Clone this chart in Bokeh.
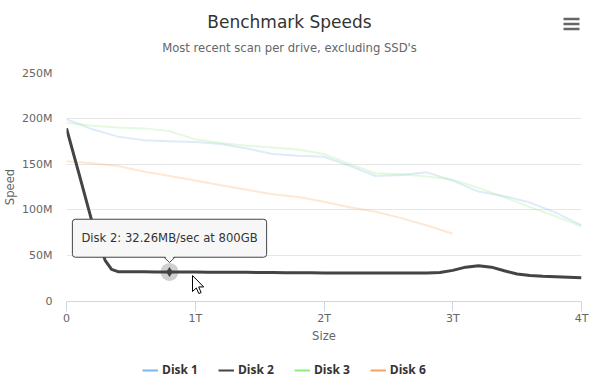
from bokeh.plotting import figure
from bokeh.layouts import column
from bokeh.models import (Range1d, FixedTicker, Label, Legend, LegendItem,
                          PolyAnnotation)
from bokeh.embed import file_html
from bokeh.resources import INLINE

# Scan results: size in TB, speed in MB/sec
disk1_size = [0, 0.2, 0.4, 0.6, 0.8, 1.0, 1.2, 1.4, 1.6, 1.8, 2.0,
              2.2, 2.4, 2.6, 2.8, 3.0, 3.2, 3.4, 3.6, 3.8, 4.0]
disk1_speed = [199, 188, 180, 176, 175, 174, 172, 167, 161, 159, 158,
               148, 137, 138, 141, 132, 120, 115, 108, 97, 83]

disk2_size = [0, 0.1, 0.2, 0.3, 0.35, 0.4, 0.5, 0.6, 0.7, 0.8, 0.9, 1.0,
              1.1, 1.2, 1.3, 1.4, 1.5, 1.6, 1.7, 1.8, 1.9, 2.0,
              2.1, 2.2, 2.3, 2.4, 2.5, 2.6, 2.7, 2.8, 2.9, 3.0,
              3.1, 3.2, 3.3, 3.4, 3.5, 3.6, 3.7, 3.8, 3.9, 4.0]
disk2_speed = [189, 138, 86, 45, 35.0, 32.6, 32.4, 32.4, 32.3, 32.26, 32.2, 32.1,
               32.0, 32.0, 31.9, 31.8, 31.7, 31.6, 31.5, 31.4, 31.3, 31.2,
               31.2, 31.1, 31.1, 31.0, 31.0, 31.0, 31.0, 31.0, 31.6, 34.0,
               37.5, 39.0, 37.5, 33.5, 30.0, 28.5, 27.5, 27.0, 26.5, 26.0]

disk3_size = [0, 0.2, 0.4, 0.6, 0.8, 1.0, 1.2, 1.4, 1.6, 1.8, 2.0,
              2.2, 2.4, 2.6, 2.8, 3.0, 3.2, 3.4, 3.6, 3.8, 4.0]
disk3_speed = [195, 192, 190, 189, 186, 177, 173, 170, 168, 166, 161,
               150, 140, 139, 136.5, 133, 124, 114, 103, 93, 82]

disk6_size = [0, 0.2, 0.4, 0.6, 0.8, 1.0, 1.2, 1.4, 1.6, 1.8, 2.0,
              2.2, 2.4, 2.6, 2.8, 3.0]
disk6_speed = [153, 151, 148, 142, 137, 132, 127, 122, 117, 114, 109,
               103, 98, 91, 83, 74]

series_names = ["Disk 1", "Disk 2", "Disk 3", "Disk 6"]
series_colors = ["#7cb5ec", "#434348", "#90ed7d", "#f7a35c"]

y_ticks = [0, 50, 100, 150, 200, 250]
y_tick_labels = ["0", "50M", "100M", "150M", "200M", "250M"]
x_ticks = [0, 1, 2, 3, 4]
x_tick_labels = ["0", "1T", "2T", "3T", "4T"]

# hovered point
hover_size = 0.8
hover_speed = 32.26

FONT = "DejaVu Sans"
LEGEND_FONT = "Open Sans"
W = 603
LEFT, RIGHT = 66, 581          # plot area, page pixels
FRAME_W, FRAME_H = RIGHT - LEFT, 229


def bare(fig):
    fig.outline_line_color = None
    fig.background_fill_color = "white"
    fig.border_fill_color = "white"
    fig.xgrid.visible = False
    fig.ygrid.visible = False
    return fig


def strip(height, y_range):
    # axis-less band sharing the plot area's horizontal extent (x in page pixels)
    return bare(figure(width=W, height=height, output_backend="svg",
                       toolbar_location=None, x_range=Range1d(LEFT, RIGHT),
                       y_range=y_range, x_axis_location=None, y_axis_location=None,
                       title_location=None, min_border_left=LEFT,
                       min_border_right=W - RIGHT, min_border_top=0,
                       min_border_bottom=0))


# ---------- header: title, subtitle, menu button ----------
HEAD_H = 66
head = strip(HEAD_H, Range1d(HEAD_H, 0))
head.add_layout(Label(x=289, y=21.5, text="Benchmark Speeds", text_align="center",
                      text_baseline="alphabetic", text_font=FONT,
                      text_font_size="17px", text_color="#333333"))
head.add_layout(Label(x=289, y=47, text="Most recent scan per drive, excluding SSD's",
                      text_align="center", text_baseline="alphabetic", text_font=FONT,
                      text_font_size="11.6px", text_color="#666666"))
menu_top = [17.3, 22.3, 27.3]
head.quad(left=563, right=579, top=menu_top, bottom=[t + 2.5 for t in menu_top],
          fill_color="#666666", line_color=None)

# ---------- main chart ----------
MAIN_TOP, MAIN_BOTTOM = 6, 52
p = bare(figure(width=W, height=MAIN_TOP + FRAME_H + MAIN_BOTTOM, output_backend="svg",
                toolbar_location=None, title_location=None,
                x_range=Range1d(0, 4), y_range=Range1d(0, 250),
                min_border_left=LEFT, min_border_right=W - RIGHT,
                min_border_top=MAIN_TOP, min_border_bottom=MAIN_BOTTOM))
p.ygrid.visible = True
p.ygrid.grid_line_color = "#e6e6e6"

p.yaxis.ticker = FixedTicker(ticks=y_ticks)
p.yaxis.major_label_overrides = dict(zip(y_ticks, y_tick_labels))
p.yaxis.axis_line_color = None
p.yaxis.major_tick_line_color = None
p.yaxis.major_tick_out = 0
p.yaxis.major_tick_in = 0
p.yaxis.minor_tick_line_color = None
p.yaxis.minor_tick_out = 0
p.yaxis.minor_tick_in = 0
p.yaxis.major_label_standoff = 14
p.yaxis.axis_label = "Speed"
p.yaxis.axis_label_standoff = 2

p.xaxis.ticker = FixedTicker(ticks=x_ticks)
p.xaxis.major_label_overrides = dict(zip(x_ticks, x_tick_labels))
p.xaxis.axis_line_color = "#ccd6eb"
p.xaxis.major_tick_line_color = "#ccd6eb"
p.xaxis.major_tick_out = 10
p.xaxis.major_tick_in = 0
p.xaxis.minor_tick_line_color = None
p.xaxis.minor_tick_out = 0
p.xaxis.minor_tick_in = 0
p.xaxis.major_label_standoff = 0
p.xaxis.axis_label = "Size"
p.xaxis.axis_label_standoff = 1

for ax in (p.xaxis, p.yaxis):
    ax.major_label_text_font = FONT
    ax.major_label_text_font_size = "11px"
    ax.major_label_text_color = "#666666"
    ax.axis_label_text_font = FONT
    ax.axis_label_text_font_size = "11.6px"
    ax.axis_label_text_color = "#666666"
    ax.axis_label_text_font_style = "normal"

# series (inactive ones faded while Disk 2 is hovered)
p.line(disk1_size, disk1_speed, line_color=series_colors[0], line_width=2, line_alpha=0.25)
p.line(disk3_size, disk3_speed, line_color=series_colors[2], line_width=2, line_alpha=0.25)
p.line(disk6_size, disk6_speed, line_color=series_colors[3], line_width=2, line_alpha=0.25)
p.line(disk2_size, disk2_speed, line_color=series_colors[1], line_width=3)

# hover halo + marker
p.scatter([hover_size], [hover_speed], size=18, marker="circle",
          fill_color=series_colors[1], fill_alpha=0.25, line_color=None)
p.scatter([hover_size], [hover_speed], size=10, marker="diamond",
          fill_color=series_colors[1], line_color=None)

# pixel offsets around the hovered point -> data units
sx = FRAME_W / 4.0
sy = FRAME_H / 250.0


def off(dx, dy):
    return hover_size + dx / sx, hover_speed - dy / sy


# tooltip box
BOX_GAP = 14.7
tooltip = Label(x=hover_size, y=hover_speed, y_offset=BOX_GAP,
                text=f"Disk 2: {hover_speed:.2f}MB/sec at {int(hover_size * 1000)}GB",
                anchor="bottom_center", text_align="center", text_baseline="middle",
                text_font=FONT, text_font_size="11.6px", text_color="#333333",
                background_fill_color="#f7f7f7", background_fill_alpha=1,
                border_line_color=series_colors[1], border_line_width=1,
                border_radius=3, padding=(9, 12))

# tooltip notch pointing at the hovered point
nx, ny = zip(off(-5.5, -BOX_GAP), off(0, -9.5), off(5.5, -BOX_GAP))
p.line(list(nx), list(ny), line_color=series_colors[1], line_width=1)
p.add_layout(tooltip)
gx, gy = zip(off(-4.8, -BOX_GAP - 1.5), off(4.8, -BOX_GAP - 1.5), off(0, -10.3))
p.add_layout(PolyAnnotation(xs=list(gx), ys=list(gy), fill_color="#f7f7f7",
                            fill_alpha=1, line_color=None))

# mouse pointer
arrow = [(0, 0), (0, 16), (3.8, 12.4), (6.3, 18), (8.6, 17), (6.2, 11.4), (11.2, 11.4)]
cx, cy = zip(*[off(23 + ax_, 3.6 + ay_) for ax_, ay_ in arrow])
p.patch(list(cx), list(cy), fill_color="white", line_color="black", line_width=1)

# ---------- legend ----------
LEG_H = 387 - HEAD_H - (MAIN_TOP + FRAME_H + MAIN_BOTTOM)
leg = strip(LEG_H, Range1d(0, LEG_H))
# swatch renderers sit outside the visible band; only their legend entries show
swatches = [leg.line([-50, -40], [-50, -50], line_color=c, line_width=2)
            for c in series_colors]
legend = Legend(items=[LegendItem(label=n, renderers=[r])
                       for n, r in zip(series_names, swatches)],
                orientation="horizontal", location=(142 - LEFT, 9),
                label_text_font=LEGEND_FONT, label_text_font_size="12px",
                label_text_font_style="bold", label_text_color="#333333",
                glyph_width=16, glyph_height=14, label_standoff=4, spacing=20,
                label_height=14, padding=0, margin=0, border_line_color=None,
                background_fill_alpha=0)
leg.add_layout(legend)

page = column(head, p, leg, spacing=0)
open("out.html", "w").write(file_html(page, INLINE))
